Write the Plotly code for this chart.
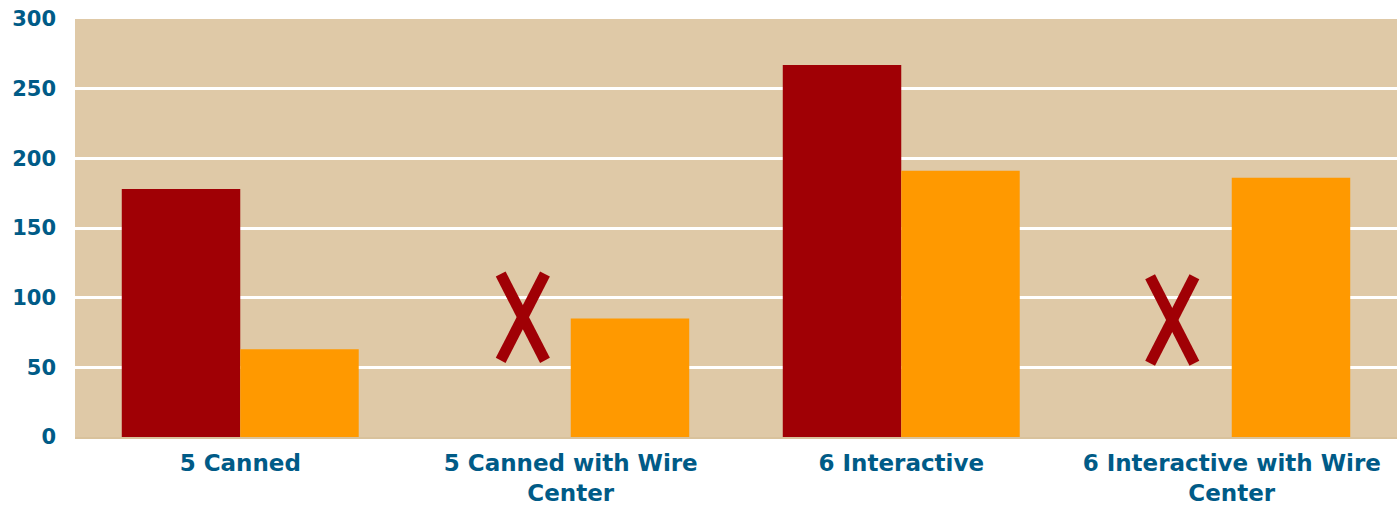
import plotly.graph_objects as go

categories = ["5 Canned", "5 Canned with Wire<br>Center", "6 Interactive", "6 Interactive with Wire<br>Center"]
series_a = [178, None, 267, None]
series_b = [63, 85, 191, 186]
missing_idx = [1, 3]
missing_mark_y = [86, 84]

tick_vals = [0, 50, 100, 150, 200, 250, 300]

RED = "#A00005"
ORANGE = "#FF9900"
TAN = "#DFC9A7"
LABEL = "#005B87"
FONT = "DejaVu Sans"

fig = go.Figure()
fig.add_trace(go.Bar(x=categories, y=series_a, marker=dict(color=RED, line=dict(width=0)), name="A"))
fig.add_trace(go.Bar(x=categories, y=series_b, marker=dict(color=ORANGE, line=dict(width=0)), name="B"))

# X marks for missing values, placed in the first bar slot of each category
shapes = []
hw = 0.067
hh = 31
for idx, yv in zip(missing_idx, missing_mark_y):
    cx = idx - (0.145 if idx == 1 else 0.18)
    shapes.append(dict(type="line", xref="x", yref="y", x0=cx - hw, x1=cx + hw,
                       y0=yv + hh, y1=yv - hh, line=dict(color=RED, width=11), layer="above"))
    shapes.append(dict(type="line", xref="x", yref="y", x0=cx - hw, x1=cx + hw,
                       y0=yv - hh, y1=yv + hh, line=dict(color=RED, width=11), layer="above"))

fig.update_layout(
    width=1397, height=509,
    margin=dict(l=75, r=0, t=19, b=72),
    paper_bgcolor="white",
    plot_bgcolor=TAN,
    barmode="group",
    bargap=0.283,
    bargroupgap=0,
    showlegend=False,
    shapes=shapes,
    font=dict(family=FONT, color=LABEL),
)
fig.update_xaxes(
    type="category",
    tickfont=dict(family=FONT, size=23, color=LABEL, weight="bold"),
    showgrid=False,
    showline=True, linecolor="#D9C29C", linewidth=2,
    ticks="", ticklabelstandoff=4,
    automargin=False,
)
fig.update_yaxes(
    range=[0, 300],
    tickvals=tick_vals,
    tickfont=dict(family=FONT, size=21, color=LABEL, weight="bold"),
    showgrid=True, gridcolor="white", gridwidth=3,
    zeroline=False, showline=False,
    ticks="", ticklabelstandoff=18,
    automargin=False,
)

fig.write_html("out.html")
